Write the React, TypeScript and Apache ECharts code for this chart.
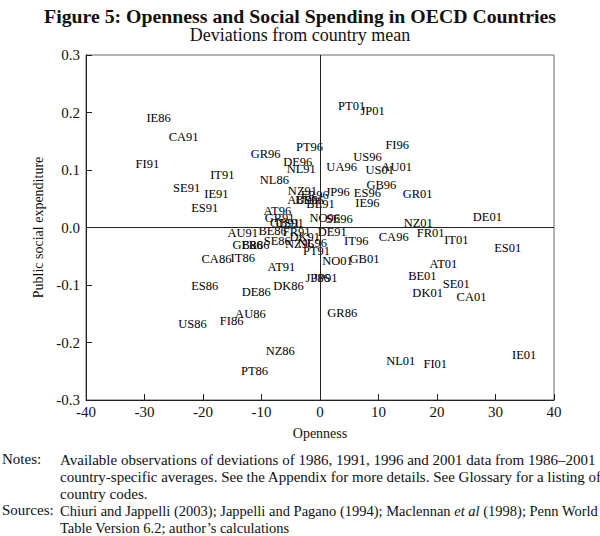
import React, { useEffect, useRef } from "react";
import * as echarts from "echarts";

const labels = [
  "IE86","CA91","FI91","GR96","PT96","DE96","NL91","IT91","NL86","SE91",
  "IE91","ES91","NZ91","FR96","AU96","BE96","BE91","JP96","ES96","IE96",
  "GB96","GR01","PT01","JP01","FI96","US96","UA96","US01","AU01","AT96",
  "GR91","US91","GB91","NO96","SE96","DE01","NZ01","AU91","BE86","GB86",
  "FR86","SE86","FR91","DK91","DE91","NZ96","NL96","PT91","IT96","CA96",
  "FR01","IT01","ES01","CA86","IT86","AT91","NO01","GB01","AT01","BE01",
  "SE01","DK01","CA01","ES86","DE86","DK86","JP86","JP91","GR86","US86",
  "FI86","AU86","NZ86","PT86","NL01","FI01","IE01",
];
const openness = [
  -27.6,-23.3,-29.5,-9.3,-1.8,-3.8,-3.2,-16.7,-7.8,-22.8,
  -17.7,-19.7,-3.0,-0.9,-3.0,-1.8,0.1,3.0,8.1,8.1,
  10.5,16.7,5.4,9.0,13.2,8.1,3.7,10.2,13.1,-7.3,
  -6.9,-5.2,-6.0,0.8,3.3,28.6,16.8,-13.2,-8.1,-12.4,
  -11.0,-7.3,-4.0,-2.6,2.1,-3.5,-1.3,-0.6,6.2,12.6,
  18.9,23.3,32.1,-17.7,-13.2,-6.6,3.0,7.6,21.1,17.5,
  23.3,18.4,25.9,-19.7,-10.9,-5.4,-0.4,0.9,3.8,-21.8,
  -15.1,-11.9,-6.8,-11.2,13.8,19.7,34.9,
];
const spending = [
  0.190,0.157,0.110,0.128,0.140,0.114,0.102,0.091,0.082,0.068,
  0.058,0.034,0.063,0.056,0.048,0.048,0.041,0.061,0.060,0.042,
  0.074,0.058,0.211,0.203,0.143,0.122,0.105,0.100,0.105,0.028,
  0.016,0.007,0.008,0.016,0.014,0.018,0.007,-0.010,-0.006,-0.031,
  -0.031,-0.024,-0.008,-0.017,-0.008,-0.029,-0.027,-0.040,-0.024,-0.017,
  -0.010,-0.022,-0.036,-0.055,-0.053,-0.069,-0.059,-0.055,-0.064,-0.085,
  -0.099,-0.114,-0.120,-0.102,-0.113,-0.101,-0.087,-0.087,-0.148,-0.168,
  -0.163,-0.151,-0.214,-0.250,-0.233,-0.238,-0.222,
];

const FONT = "Liberation Serif";

export default function App() {
  const ref = useRef<HTMLDivElement>(null);
  useEffect(() => {
    if (!ref.current) return;
    const chart = echarts.init(ref.current, null, { renderer: "svg" });
    const data = labels.map((l, i) => [openness[i], spending[i], l]);
    const noteStyle = { fontFamily: FONT, fontSize: 15, fill: "#111" };
    chart.setOption({
      animation: false,
      backgroundColor: "#fff",
      title: [
        {
          text: "Figure 5: Openness and Social Spending in OECD Countries",
          left: "center",
          top: 1,
          textStyle: { fontFamily: FONT, fontSize: 19.8, fontWeight: "bold", color: "#111" },
        },
        {
          text: "Deviations from country mean",
          left: "center",
          top: 21,
          textStyle: { fontFamily: FONT, fontSize: 18, fontWeight: "normal", color: "#111" },
        },
      ],
      grid: {
        left: 86,
        right: 46,
        top: 55,
        bottom: 136,
        show: true,
        borderColor: "#666",
        borderWidth: 1,
      },
      xAxis: {
        type: "value",
        min: -40,
        max: 40,
        interval: 10,
        name: "Openness",
        nameLocation: "middle",
        nameGap: 26,
        nameTextStyle: { fontFamily: FONT, fontSize: 14, color: "#111" },
        axisLine: { show: true, onZero: false, lineStyle: { color: "#222", width: 1 } },
        axisTick: { show: true, inside: true, length: 6, lineStyle: { color: "#222" } },
        axisLabel: { fontFamily: FONT, fontSize: 15, color: "#111", margin: 4 },
        splitLine: { show: false },
      },
      yAxis: {
        type: "value",
        min: -0.3,
        max: 0.3,
        interval: 0.1,
        name: "Public social expenditure",
        nameLocation: "middle",
        nameGap: 38,
        nameRotate: 90,
        nameTextStyle: { fontFamily: FONT, fontSize: 14, color: "#111" },
        axisLine: { show: true, onZero: false, lineStyle: { color: "#222", width: 1 } },
        axisTick: { show: true, inside: true, length: 6, lineStyle: { color: "#222" } },
        axisLabel: {
          fontFamily: FONT,
          fontSize: 15,
          color: "#111",
          margin: 6,
          formatter: (v: number) => (Math.abs(v) < 1e-9 ? "0.0" : v.toFixed(1)),
        },
        splitLine: { show: false },
      },
      series: [
        {
          type: "scatter",
          data,
          symbolSize: 0,
          itemStyle: { color: "rgba(0,0,0,0)", opacity: 1 },
          label: {
            show: true,
            position: "inside",
            formatter: (p: any) => p.value[2],
            fontFamily: FONT,
            fontSize: 12.5,
            color: "#000",
            opacity: 1,
          },
          labelLayout: { hideOverlap: false },
          markLine: {
            silent: true,
            symbol: "none",
            label: { show: false },
            lineStyle: { color: "#222", width: 1, type: "solid" },
            data: [{ xAxis: 0 }, { yAxis: 0 }],
          },
        },
      ],
      graphic: [
        { type: "text", left: 2, top: 451, style: { ...noteStyle, text: "Notes:" } },
        {
          type: "text",
          left: 60,
          top: 451,
          style: {
            ...noteStyle,
            lineHeight: 17,
            text:
              "Available observations of deviations of 1986, 1991, 1996 and 2001 data from 1986\u20132001\ncountry-specific averages. See the Appendix for more details. See Glossary for a listing of\ncountry codes.",
          },
        },
        { type: "text", left: 2, top: 502, style: { ...noteStyle, text: "Sources:" } },
        {
          type: "text",
          left: 60,
          top: 502,
          style: {
            ...noteStyle,
            lineHeight: 17,
            text:
              "{n|Chiuri and Jappelli (2003); Jappelli and Pagano (1994); Maclennan }{i|et al}{n| (1998); Penn World}\n{n|Table Version 6.2; author\u2019s calculations}",
            rich: {
              n: { fontFamily: FONT, fontSize: 14.5, fill: "#111", lineHeight: 17 },
              i: { fontFamily: FONT, fontSize: 14.5, fill: "#111", fontStyle: "italic", lineHeight: 17 },
            },
          },
        },
      ],
    });
    return () => chart.dispose();
  }, []);
  return (
    <div
      ref={ref}
      style={{ position: "fixed", left: 0, top: 0, width: 600, height: 536 }}
    />
  );
}
